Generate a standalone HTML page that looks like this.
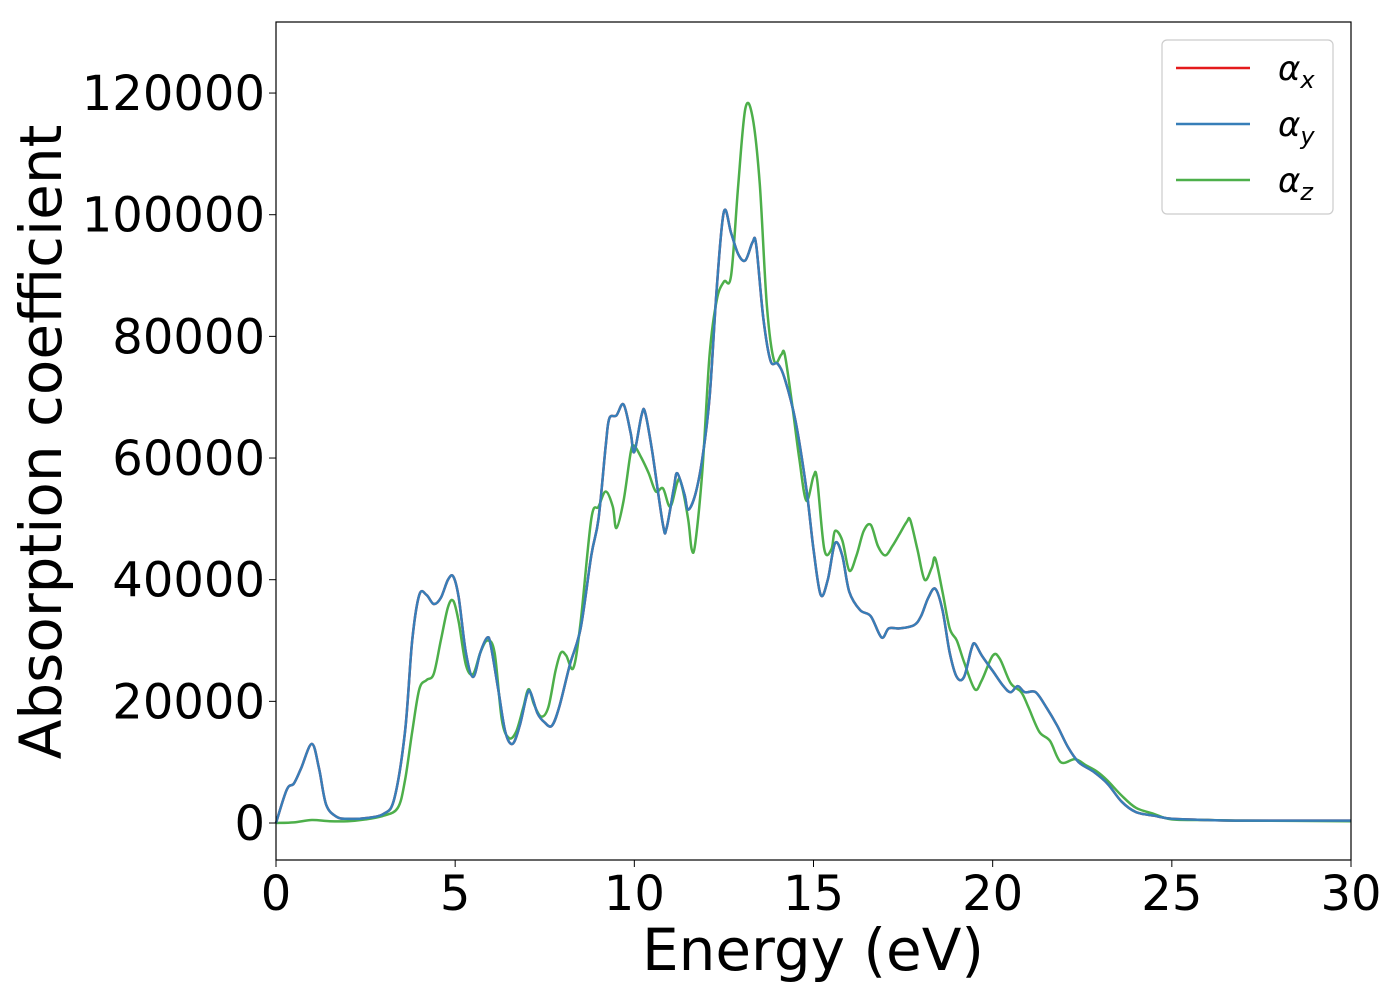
<!DOCTYPE html>
<html><head><meta charset="utf-8"><style>
html,body{margin:0;padding:0;background:#fff;}
svg text{font-family:"DejaVu Sans","Liberation Sans",sans-serif;fill:#000;}
</style></head><body>
<svg id="chart" width="1400" height="1000" viewBox="0 0 1400 1000">
<rect x="0" y="0" width="1400" height="1000" fill="#fff"/>
<g id="marks"></g>
<rect x="276" y="22" width="1075" height="838" fill="none" stroke="#000" stroke-width="1.2"/>
<g id="xticks"></g><g id="yticks"></g>
<text x="813" y="970" font-size="58" text-anchor="middle">Energy (eV)</text>
<text transform="translate(61,442) rotate(-90)" font-size="58" text-anchor="middle">Absorption coefficient</text>
<g>
<rect x="1162" y="40" width="171" height="174" rx="5" fill="#fff" fill-opacity="0.8" stroke="#ccc" stroke-width="1.2"/>
<g><line x1="1176" y1="68" x2="1250" y2="68" stroke="#e41a1c" stroke-width="2.5"/><text x="1278" y="80" font-size="34" font-style="italic">α<tspan font-size="24" dy="8">x</tspan></text></g>
<g><line x1="1176" y1="124" x2="1250" y2="124" stroke="#377eb8" stroke-width="2.5"/><text x="1278" y="136" font-size="34" font-style="italic">α<tspan font-size="24" dy="8">y</tspan></text></g>
<g><line x1="1176" y1="180" x2="1250" y2="180" stroke="#4daf4a" stroke-width="2.5"/><text x="1278" y="192" font-size="34" font-style="italic">α<tspan font-size="24" dy="8">z</tspan></text></g>
</g>
</svg>
<script>
const xyE=[0,0.3,0.5,0.7,1.0,1.2,1.4,1.7,2.0,2.5,3.0,3.3,3.6,3.8,4.0,4.2,4.4,4.6,4.8,4.95,5.1,5.3,5.5,5.7,5.9,6.0,6.2,6.4,6.6,6.8,7.0,7.1,7.3,7.5,7.7,7.9,8.2,8.5,8.8,9.0,9.2,9.3,9.5,9.7,9.9,10.0,10.2,10.3,10.5,10.8,10.9,11.1,11.2,11.4,11.5,11.7,11.9,12.1,12.3,12.5,12.7,12.9,13.1,13.3,13.4,13.6,13.8,14.0,14.2,14.5,14.8,15.0,15.2,15.4,15.6,15.8,16.0,16.3,16.6,16.9,17.1,17.4,17.8,18.0,18.2,18.4,18.6,18.8,19.0,19.2,19.4,19.5,19.7,20.0,20.3,20.5,20.7,20.9,21.2,21.5,21.8,22.1,22.4,22.8,23.2,23.6,24.0,24.5,25,26,27,30];
const xyVal=[0,5500,6500,9000,13000,9000,3000,1000,700,800,1500,4000,15000,30000,37500,37500,36000,37000,40000,40500,37000,28000,24000,28000,30500,29000,22000,15000,13000,16000,21000,21500,18000,16500,16000,19000,26000,32000,44000,50000,62000,66500,67000,68800,64000,61000,67000,67500,61000,49000,48500,55000,57500,54000,51500,54000,60000,70000,88000,100500,97000,93500,92500,95500,95000,83000,76000,75500,73000,66000,55000,45000,37500,40000,46000,44000,38000,35000,34000,30500,32000,32000,32500,34000,37000,38500,35000,28000,24000,24000,28500,29500,27500,25000,22500,21500,22500,21500,21500,19000,16000,12500,10000,8500,6500,3500,1800,1200,700,500,400,400];
const zE=[0,0.5,1.0,1.5,2.0,2.5,3.0,3.4,3.6,3.8,4.0,4.2,4.4,4.6,4.8,4.95,5.1,5.3,5.5,5.7,5.9,6.1,6.3,6.5,6.7,6.9,7.05,7.2,7.4,7.6,7.8,7.95,8.1,8.3,8.5,8.8,9.0,9.2,9.4,9.5,9.7,9.9,10.0,10.2,10.4,10.6,10.8,11.0,11.2,11.3,11.5,11.6,11.7,11.9,12.1,12.3,12.5,12.7,12.9,13.1,13.3,13.5,13.7,13.9,14.1,14.2,14.4,14.6,14.8,15.0,15.1,15.3,15.5,15.6,15.8,16.0,16.2,16.4,16.6,16.8,17.0,17.2,17.4,17.6,17.7,17.9,18.1,18.3,18.4,18.6,18.8,19.0,19.2,19.5,19.7,20.0,20.2,20.5,20.8,21.0,21.3,21.6,21.9,22.3,22.6,22.9,23.2,23.6,24.0,24.5,25,26,27,30];
const zVal=[0,100,500,300,300,600,1200,2500,7000,15000,22000,23500,24500,30000,35500,36500,33000,26000,24500,28000,30000,28000,17000,14000,15000,19000,22000,19500,17500,19000,25000,28000,27500,25500,33000,50000,52000,54500,52000,48500,53000,61000,62000,60000,57500,54500,55000,52000,56000,56000,50000,45000,46000,58000,77000,86000,89000,90000,105000,117500,116000,105000,85000,76000,77000,77000,69000,60000,53000,57000,56500,45000,45000,48000,46500,41500,44000,48000,49000,45500,44000,45500,47500,49500,49800,45000,40000,42000,43500,38000,32000,30000,26500,22000,23500,27500,27000,23000,21500,19000,15000,13500,10000,10500,9500,8500,7000,4500,2500,1500,600,500,400,300];
const xTicks=[0,5,10,15,20,25,30];
const yTicks=[0,20000,40000,60000,80000,100000,120000];
const X0=276,X1=1351,Y0=22,Y1=860,xMin=0,xMax=30,yMin=-6080,yMax=131680;
const sx=v=>X0+(v-xMin)/(xMax-xMin)*(X1-X0);
const sy=v=>Y1-(v-yMin)/(yMax-yMin)*(Y1-Y0);
const NS="http://www.w3.org/2000/svg";
function pathFor(E,V){
  const p=E.map((e,i)=>[sx(e),sy(V[i])]);
  let d="M"+p[0][0].toFixed(1)+","+p[0][1].toFixed(1);
  for(let i=0;i<p.length-1;i++){
    const a=p[Math.max(0,i-1)],b=p[i],c=p[i+1],e=p[Math.min(p.length-1,i+2)];
    const c1=[b[0]+(c[0]-a[0])/6,b[1]+(c[1]-a[1])/6],c2=[c[0]-(e[0]-b[0])/6,c[1]-(e[1]-b[1])/6];
    d+="C"+c1[0].toFixed(1)+","+c1[1].toFixed(1)+" "+c2[0].toFixed(1)+","+c2[1].toFixed(1)+" "+c[0].toFixed(1)+","+c[1].toFixed(1);
  }
  return d;
}
const marks=document.getElementById("marks");
function addLine(E,V,color,name){
  const el=document.createElementNS(NS,"path");
  el.setAttribute("d",pathFor(E,V));
  el.setAttribute("fill","none");el.setAttribute("stroke",color);el.setAttribute("stroke-width","2.5");
  
  
  marks.appendChild(el);
}
addLine(xyE,xyVal,"#e41a1c","series-alpha-x");
addLine(zE,zVal,"#4daf4a","series-alpha-z");
addLine(xyE,xyVal,"#377eb8","series-alpha-y");
const xt=document.getElementById("xticks");
xTicks.forEach(t=>{
  const l=document.createElementNS(NS,"line");
  l.setAttribute("x1",sx(t));l.setAttribute("x2",sx(t));l.setAttribute("y1",Y1);l.setAttribute("y2",Y1+7);l.setAttribute("stroke","#000");
  
  
  xt.appendChild(l);
  const tx=document.createElementNS(NS,"text");
  tx.setAttribute("x",sx(t));tx.setAttribute("y",910);tx.setAttribute("font-size","48");tx.setAttribute("text-anchor","middle");
  tx.textContent=t;
  
  
  xt.appendChild(tx);
});
const yt=document.getElementById("yticks");
yTicks.forEach(t=>{
  const l=document.createElementNS(NS,"line");
  l.setAttribute("x1",X0-7);l.setAttribute("x2",X0);l.setAttribute("y1",sy(t));l.setAttribute("y2",sy(t));l.setAttribute("stroke","#000");
  
  
  yt.appendChild(l);
  const tx=document.createElementNS(NS,"text");
  tx.setAttribute("x",X0-11);tx.setAttribute("y",sy(t)+17);tx.setAttribute("font-size","48");tx.setAttribute("text-anchor","end");
  tx.textContent=t;
  
  
  yt.appendChild(tx);
});
</script>
</body></html>
